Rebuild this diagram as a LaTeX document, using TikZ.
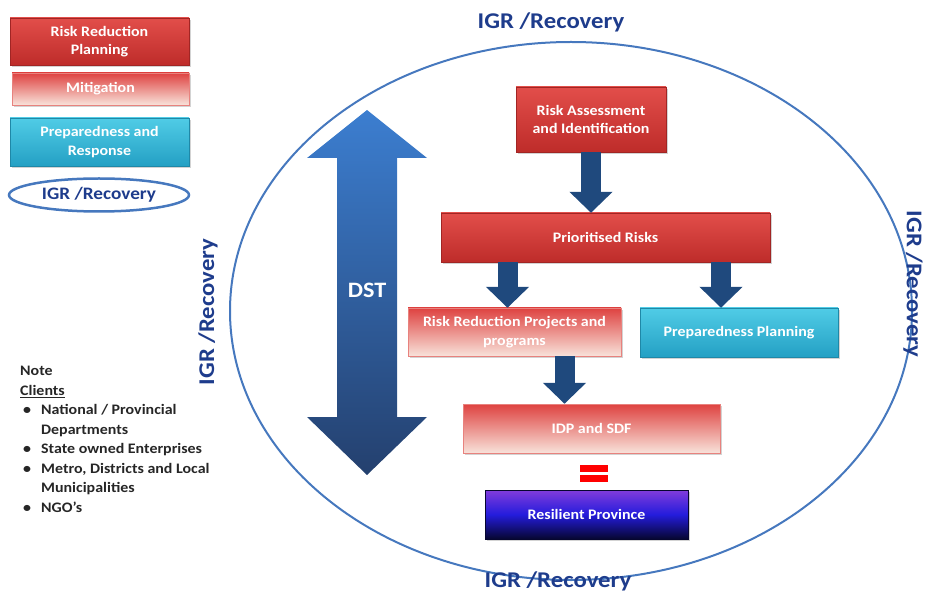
\documentclass[tikz,border=0pt]{standalone}
\usepackage{fontspec}
\setmainfont{Carlito}[FakeStretch=1.1]
\definecolor{redtop}{RGB}{226, 78, 74}
\definecolor{redbot}{RGB}{190, 44, 42}
\definecolor{fadetop}{RGB}{222, 66, 64}
\definecolor{fadebot}{RGB}{248, 226, 218}
\definecolor{cyantop}{RGB}{80, 204, 230}
\definecolor{cyanbot}{RGB}{36, 160, 196}
\definecolor{purpletop}{RGB}{130, 60, 220}
\definecolor{purplemid}{RGB}{36, 28, 220}
\definecolor{purplebot}{RGB}{6, 6, 48}
\definecolor{arrowblue}{RGB}{31, 73, 125}
\definecolor{dsttop}{RGB}{60, 126, 208}
\definecolor{dstbot}{RGB}{36, 64, 110}
\definecolor{igrblue}{RGB}{30, 60, 140}
\definecolor{ringblue}{RGB}{70, 120, 190}
\usetikzlibrary{
  arrows.meta,
  calc,
  positioning,
  shadows,
  shapes.geometric,
}
\tikzset{
  >=Triangle,
  box/.style={rectangle, inner sep=2pt, align=center, text=white,
    font=\fontsize{14.5}{18.5}\selectfont\bfseries,
    drop shadow={opacity=0.35, shadow xshift=2pt, shadow yshift=-2pt}},
  redbox/.style={box, top color=redtop, bottom color=redbot, draw=redbot!85!black, line width=0.4pt},
  fadebox/.style={box, top color=fadetop, bottom color=fadebot, draw=fadetop!60!fadebot, line width=0.4pt},
  cyanbox/.style={box, top color=cyantop, bottom color=cyanbot, draw=cyanbot!85!black, line width=0.4pt},
  purplebox/.style={box, top color=purpletop, bottom color=purplebot, middle color=purplemid, draw=purplebot, line width=0.4pt},
  blockarrow/.style={draw=arrowblue, line width=20pt, -{Triangle[width=42pt,length=21pt]}},
  igr/.style={text=igrblue, inner sep=0pt, font=\fontsize{22.5}{26}\selectfont\bfseries},
  notetext/.style={text=black!85, align=left, inner sep=0pt, font=\fontsize{14.5}{19.5}\selectfont\bfseries},
}

\begin{document}
\begin{tikzpicture}[x=1pt, y=-1pt]
    \useasboundingbox (0,0) rectangle (926,593);

    % legend
    \node[redbox, minimum width=179pt, minimum height=47pt]    (l1) at (99.5,41.5)    {Risk Reduction\\Planning};
    \node[fadebox, minimum width=177pt, minimum height=32pt]    (l2) at (100.5,89)    {Mitigation};
    \node[cyanbox, minimum width=179pt, minimum height=48pt]    (l3) at (99.5,142)    {Preparedness and\\Response};
    \node[ellipse, draw=ringblue, line width=2.5pt, minimum width=180pt, minimum height=33pt, inner sep=0pt, text=igrblue, font=\fontsize{17.5}{20}\selectfont\bfseries]    (l4) at (99,195)    {IGR /Recovery};

    % note
    \node[notetext, anchor=north west]    (note) at (20,362)    {%
      \begin{tabular}{@{}l@{\hspace{10pt}}l@{}}
        \multicolumn{2}{@{}l}{Note}\\
        \multicolumn{2}{@{}l}{\underline{Clients}}\\
        \hspace{3pt}\textbullet & National / Provincial\\
                              & Departments\\
        \hspace{3pt}\textbullet & State owned Enterprises\\
        \hspace{3pt}\textbullet & Metro, Districts and Local\\
                              & Municipalities\\
        \hspace{3pt}\textbullet & NGO's
      \end{tabular}};

    % ring and its labels
    \draw[ringblue, line width=2pt] (571,311) ellipse [x radius=341pt, y radius=269pt];
    \node[igr]                (igrtop)    at (551,22)     {IGR /Recovery};
    \node[igr]                (igrbot)    at (558,581)    {IGR /Recovery};
    \node[igr, rotate=90]     (igrleft)   at (208,312)    {IGR /Recovery};
    \node[igr, rotate=-90]    (igrright)  at (913,284)    {IGR /Recovery};

    % DST
    \shade[top color=dsttop, bottom color=dstbot] (367,110) -- (427,158) -- (397,158) -- (397,417) -- (427,417)
        -- (367,475) -- (307,417) -- (337,417) -- (337,158) -- (307,158) -- cycle;
    \node[text=white, font=\fontsize{22}{26}\selectfont\bfseries]    (dst) at (367,290)    {DST};

    % flow
    \node[redbox, minimum width=150pt, minimum height=65pt]    (rai) at (591,119.5)    {Risk Assessment\\and Identification};
    \node[redbox, minimum width=329pt, minimum height=49pt]    (pr)  at (605.5,237.5)  {Prioritised Risks};
    \node[fadebox, minimum width=213pt, minimum height=48pt]   (rrp) at (514.5,332)    {Risk Reduction Projects and\\programs};
    \node[cyanbox, minimum width=198pt, minimum height=49pt]   (pp)  at (739,332.5)    {Preparedness Planning};
    \node[fadebox, minimum width=257pt, minimum height=49pt]   (idp) at (591.5,428.5)  {IDP and SDF};
    \node[purplebox, minimum width=203pt, minimum height=49pt] (res) at (586.5,514.5)  {Resilient Province};

    \draw[blockarrow] (rai.south) -- (rai.south |- pr.north);
    \draw[blockarrow] ([xshift=-7pt]rrp.north |- pr.south) -- ([xshift=-7pt]rrp.north);
    \draw[blockarrow] ([xshift=-18pt]pp.north |- pr.south) -- ([xshift=-18pt]pp.north);
    \draw[blockarrow] ([xshift=-27pt]idp.north |- rrp.south) -- ([xshift=-27pt]idp.north);

    % equals
    \fill[red] (580,465) rectangle (608,472);
    \fill[red] (580,475) rectangle (608,482);

\end{tikzpicture}
\end{document}
